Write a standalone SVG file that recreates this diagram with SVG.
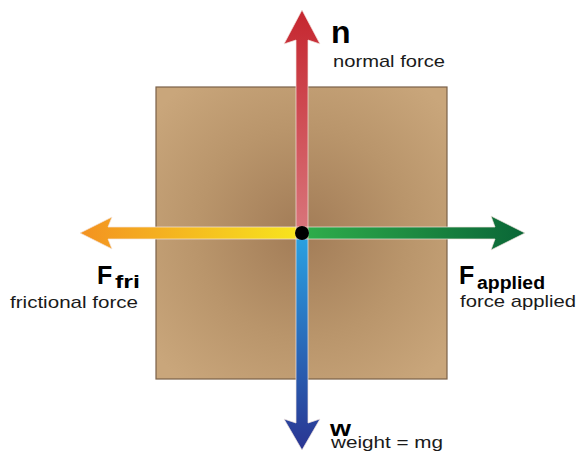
<svg xmlns="http://www.w3.org/2000/svg" width="580" height="451" viewBox="0 0 580 451">
<style>
.t{font-family:"Liberation Sans",Arial,sans-serif;fill:#1a1a1a}
.big{font-size:25px;font-weight:bold;fill:#000}
.sub{font-size:18px;font-weight:bold;fill:#000}
.lbl{font-size:17px}
.arr{stroke:#f4e6e0;stroke-width:1;stroke-opacity:0.7}
</style>
<defs>
<radialGradient id="box" cx="302" cy="233" r="190" gradientUnits="userSpaceOnUse">
<stop offset="0" stop-color="#a27c57"/>
<stop offset="0.55" stop-color="#b9956b"/>
<stop offset="1" stop-color="#c9a67b"/>
</radialGradient>
<linearGradient id="gUp" x1="0" y1="233" x2="0" y2="10" gradientUnits="userSpaceOnUse">
<stop offset="0" stop-color="#d9767c"/>
<stop offset="1" stop-color="#c5262f"/>
</linearGradient>
<linearGradient id="gDown" x1="0" y1="233" x2="0" y2="450" gradientUnits="userSpaceOnUse">
<stop offset="0" stop-color="#2aa3e3"/>
<stop offset="1" stop-color="#2a3592"/>
</linearGradient>
<linearGradient id="gLeft" x1="302" y1="0" x2="80" y2="0" gradientUnits="userSpaceOnUse">
<stop offset="0" stop-color="#f7e61e"/>
<stop offset="1" stop-color="#f39221"/>
</linearGradient>
<linearGradient id="gRight" x1="302" y1="0" x2="525" y2="0" gradientUnits="userSpaceOnUse">
<stop offset="0" stop-color="#2fae4b"/>
<stop offset="1" stop-color="#0a6637"/>
</linearGradient>
</defs>
<g id="block">
<rect x="156" y="87" width="291" height="292" fill="url(#box)" stroke="#7b6149" stroke-width="1.2"/>
</g>
<g id="connectors">
<polygon id="arrow-n" class="arr" fill="url(#gUp)" points="302,10 320,44 308,40 308,227 296,227 296,40 284,44"/>
<polygon id="arrow-w" class="arr" fill="url(#gDown)" points="302,450 320,419 308,423 308,239 296,239 296,423 284,419"/>
<polygon id="arrow-fri" class="arr" fill="url(#gLeft)" points="80,233 112,217 108,227 296,227 296,239 108,239 112,249"/>
<polygon id="arrow-app" class="arr" fill="url(#gRight)" points="525,233 491,216 495,227 308,227 308,239 495,239 491,250"/>
<circle cx="302" cy="233" r="7" fill="#000"/>
</g>
<g id="node-n">
<text class="t" x="331" y="43" style="font-size:32px;font-weight:bold;fill:#000">n</text>
<text class="t lbl" x="333" y="67" textLength="112" lengthAdjust="spacingAndGlyphs">normal force</text>
</g>
<g id="node-fri">
<text class="t big" x="97" y="284">F</text>
<text class="t sub" x="115" y="288" textLength="25" lengthAdjust="spacingAndGlyphs">fri</text>
<text class="t lbl" x="10" y="308" textLength="128" lengthAdjust="spacingAndGlyphs">frictional force</text>
</g>
<g id="node-applied">
<text class="t big" x="459" y="284">F</text>
<text class="t sub" x="477" y="289" textLength="68" lengthAdjust="spacingAndGlyphs">applied</text>
<text class="t lbl" x="460" y="307" textLength="116" lengthAdjust="spacingAndGlyphs">force applied</text>
</g>
<g id="node-w">
<text class="t" x="330" y="436" style="font-size:22px;font-weight:bold;fill:#000" textLength="21" lengthAdjust="spacingAndGlyphs">w</text>
<text class="t lbl" x="331" y="448" textLength="112" lengthAdjust="spacingAndGlyphs">weight = mg</text>
</g>
</svg>
